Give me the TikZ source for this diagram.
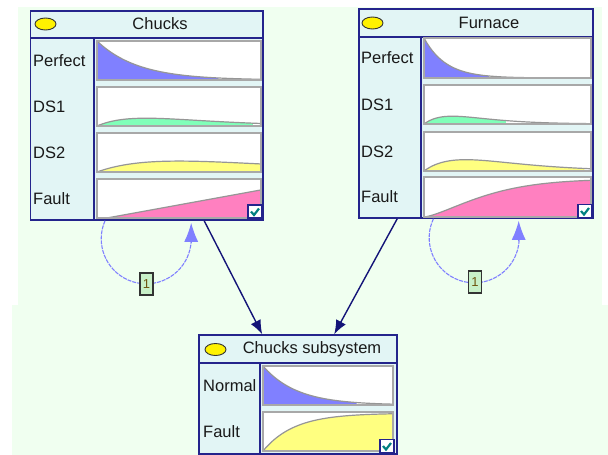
\documentclass[tikz,border=0pt]{standalone}
\usepackage{fontspec}
\setmainfont{Liberation Sans}
\usetikzlibrary{arrows.meta,calc,shapes.geometric}
\definecolor{bg}{RGB}{240,255,240}
\definecolor{navy}{RGB}{36,36,140}
\definecolor{nodefill}{RGB}{226,245,245}
\definecolor{bargray}{RGB}{168,168,168}
\definecolor{curvegray}{RGB}{150,150,150}
\definecolor{cblue}{RGB}{128,128,255}
\definecolor{cmint}{RGB}{128,255,185}
\definecolor{cyellow}{RGB}{255,255,128}
\definecolor{cpink}{RGB}{255,128,192}
\definecolor{chkteal}{RGB}{0,128,128}
\definecolor{loopblue}{RGB}{128,128,255}
\definecolor{lblfill}{RGB}{200,240,200}
\definecolor{lbltext}{RGB}{110,85,15}
\definecolor{arrnavy}{RGB}{20,20,120}
\definecolor{txt}{RGB}{25,25,25}
\newcommand{\cpd}[7]{%
  \fill[white] (#1,#2) rectangle (#3,#4);
  \begin{scope}[shift={(#1,#4)},xscale=#3-#1,yscale=#2-#4]
    \fill[#5] (0,0) -- plot[domain=0.001:#6,samples=45] (\x,{#7}) -- (#6,0) -- cycle;
    \draw[curveline] plot[domain=0.001:1,samples=60] (\x,{#7});
  \end{scope}
  \draw[barframe] (#1,#2) rectangle (#3,#4);}
\newcommand{\chk}[2]{%
  \draw[fill=white,draw=navy,line width=1.2pt] (#1,#2) rectangle ++(14,13);
  \draw[chkteal,line width=2.2pt] (#1+3,#2+6.5) -- (#1+6,#2+10) -- (#1+11,#2+3.5);}
\begin{document}
\begin{tikzpicture}[x=1pt,y=-1pt,
  font=\fontsize{16.5}{18}\selectfont,
  bnbox/.style={draw=navy,line width=1.6pt,fill=nodefill,inner sep=0pt,rectangle},
  navyline/.style={draw=navy,line width=1.6pt},
  barframe/.style={draw=bargray,line width=1.4pt},
  curveline/.style={draw=curvegray,line width=1.2pt},
  lbl/.style={text=txt,inner sep=0pt,anchor=west},
  ttl/.style={text=txt,inner sep=0pt},
  bulb/.style={ellipse,draw=black!80,line width=0.9pt,fill=yellow,minimum width=21pt,minimum height=12pt,inner sep=0pt},
  arcnavy/.style={draw=arrnavy,line width=1.4pt,-{Latex[length=14pt,width=11pt]}},
  loopln/.style={draw=loopblue,line width=1.1pt,dash pattern=on 4pt off 1pt},
  looptip/.style={draw=loopblue,fill=loopblue,line width=1.1pt,-{Latex[length=19pt,width=14pt]}},
  lblbox/.style={draw=black!80,line width=1.1pt,fill=lblfill,minimum width=13pt,minimum height=22pt,inner sep=0pt,text=lbltext,font=\fontsize{13}{13}\selectfont}
]
\useasboundingbox (0,0) rectangle (608,455);
\fill[bg] (18,7) rectangle (602,305);
\fill[bg] (12,305) rectangle (608,455);

% ---- Chucks
\node[bnbox,minimum width=232.5pt,minimum height=209pt] (chucks) at (146.75,115.5) {};
\draw[navyline] (30.5,38) -- (263,38);
\draw[navyline] (94,38) -- (94,220);
\node[bulb] (chB) at (45.5,24) {};
\node[ttl] (chT) at (160,24) {Chucks};
\cpd{97}{41}{261}{80}{cblue}{0.74}{exp(-\x/0.25)}
\cpd{97}{87}{261}{126}{cmint}{0.95}{0.2*(\x/0.3)*exp(1-\x/0.3)}
\cpd{97}{133}{261}{172}{cyellow}{1}{0.28*(\x/0.5)*exp(1-\x/0.5)}
\cpd{97}{179}{261}{218}{cpink}{1}{max(0,0.72*(\x-0.06)/0.94)}
\node[lbl] (chP) at (33,60.5) {Perfect};
\node[lbl] (ch1) at (33,106.5) {DS1};
\node[lbl] (ch2) at (33,152.5) {DS2};
\node[lbl] (chF) at (33,198.5) {Fault};
\chk{248}{205}

% ---- Furnace
\node[bnbox,minimum width=234pt,minimum height=209pt] (furnace) at (476,113.5) {};
\draw[navyline] (359,37) -- (593,37);
\draw[navyline] (421,37) -- (421,218);
\node[bulb] (fuB) at (372.5,23) {};
\node[ttl] (fuT) at (489,23) {Furnace};
\cpd{424}{38}{591}{78}{cblue}{0.39}{exp(-\x/0.13)}
\cpd{424}{85}{591}{124}{cmint}{0.49}{0.2*(\x/0.17)*exp(1-\x/0.17)}
\cpd{424}{132}{591}{171}{cyellow}{0.96}{0.29*(\x/0.25)*exp(1-\x/0.25)}
\cpd{424}{177}{591}{217}{cpink}{1}{0.95*(1-exp(-((\x/0.42)^1.4)))}
\node[lbl] (fuP) at (361,58) {Perfect};
\node[lbl] (fu1) at (361,104.5) {DS1};
\node[lbl] (fu2) at (361,151.5) {DS2};
\node[lbl] (fuF) at (361,197) {Fault};
\chk{578}{204.5}

% ---- Chucks subsystem
\node[bnbox,minimum width=198pt,minimum height=119pt] (sub) at (298,394.5) {};
\draw[navyline] (199,363) -- (397,363);
\draw[navyline] (260,363) -- (260,454);
\node[bulb] (suB) at (215.5,349.5) {};
\node[ttl] (suT) at (312,349) {Chucks subsystem};
\cpd{263}{366}{393}{405}{cblue}{0.72}{exp(-\x/0.26)}
\cpd{263}{412}{393}{451}{cyellow}{1}{0.97*(1-exp(-\x/0.24))}
\node[lbl] (suN) at (203,385.5) {Normal};
\node[lbl] (suF) at (203,431.5) {Fault};
\chk{380}{439.5}

% ---- connectors
\draw[arcnavy] ([xshift=174.5pt]chucks.south west) -- ([xshift=64pt]sub.north west);
\draw[arcnavy] ([xshift=39pt]furnace.south west) -- ([xshift=136pt]sub.north west);

\draw[loopln] ([xshift=75.3pt]chucks.south west) arc[start angle=203.6,end angle=-12,radius=45];
\draw[looptip] ([xshift=161.5pt,yshift=-22pt]chucks.south west) -- ([xshift=161.5pt,yshift=-2pt]chucks.south west);
\node[lblbox] (chL) at (146.5,284) {1};
\draw[loopln] ([xshift=75.2pt]furnace.south west) arc[start angle=205,end angle=-12,radius=45];
\draw[looptip] ([xshift=160.5pt,yshift=-22pt]furnace.south west) -- ([xshift=160.5pt,yshift=-2pt]furnace.south west);
\node[lblbox] (fuL) at (475,282) {1};
\end{tikzpicture}
\end{document}
